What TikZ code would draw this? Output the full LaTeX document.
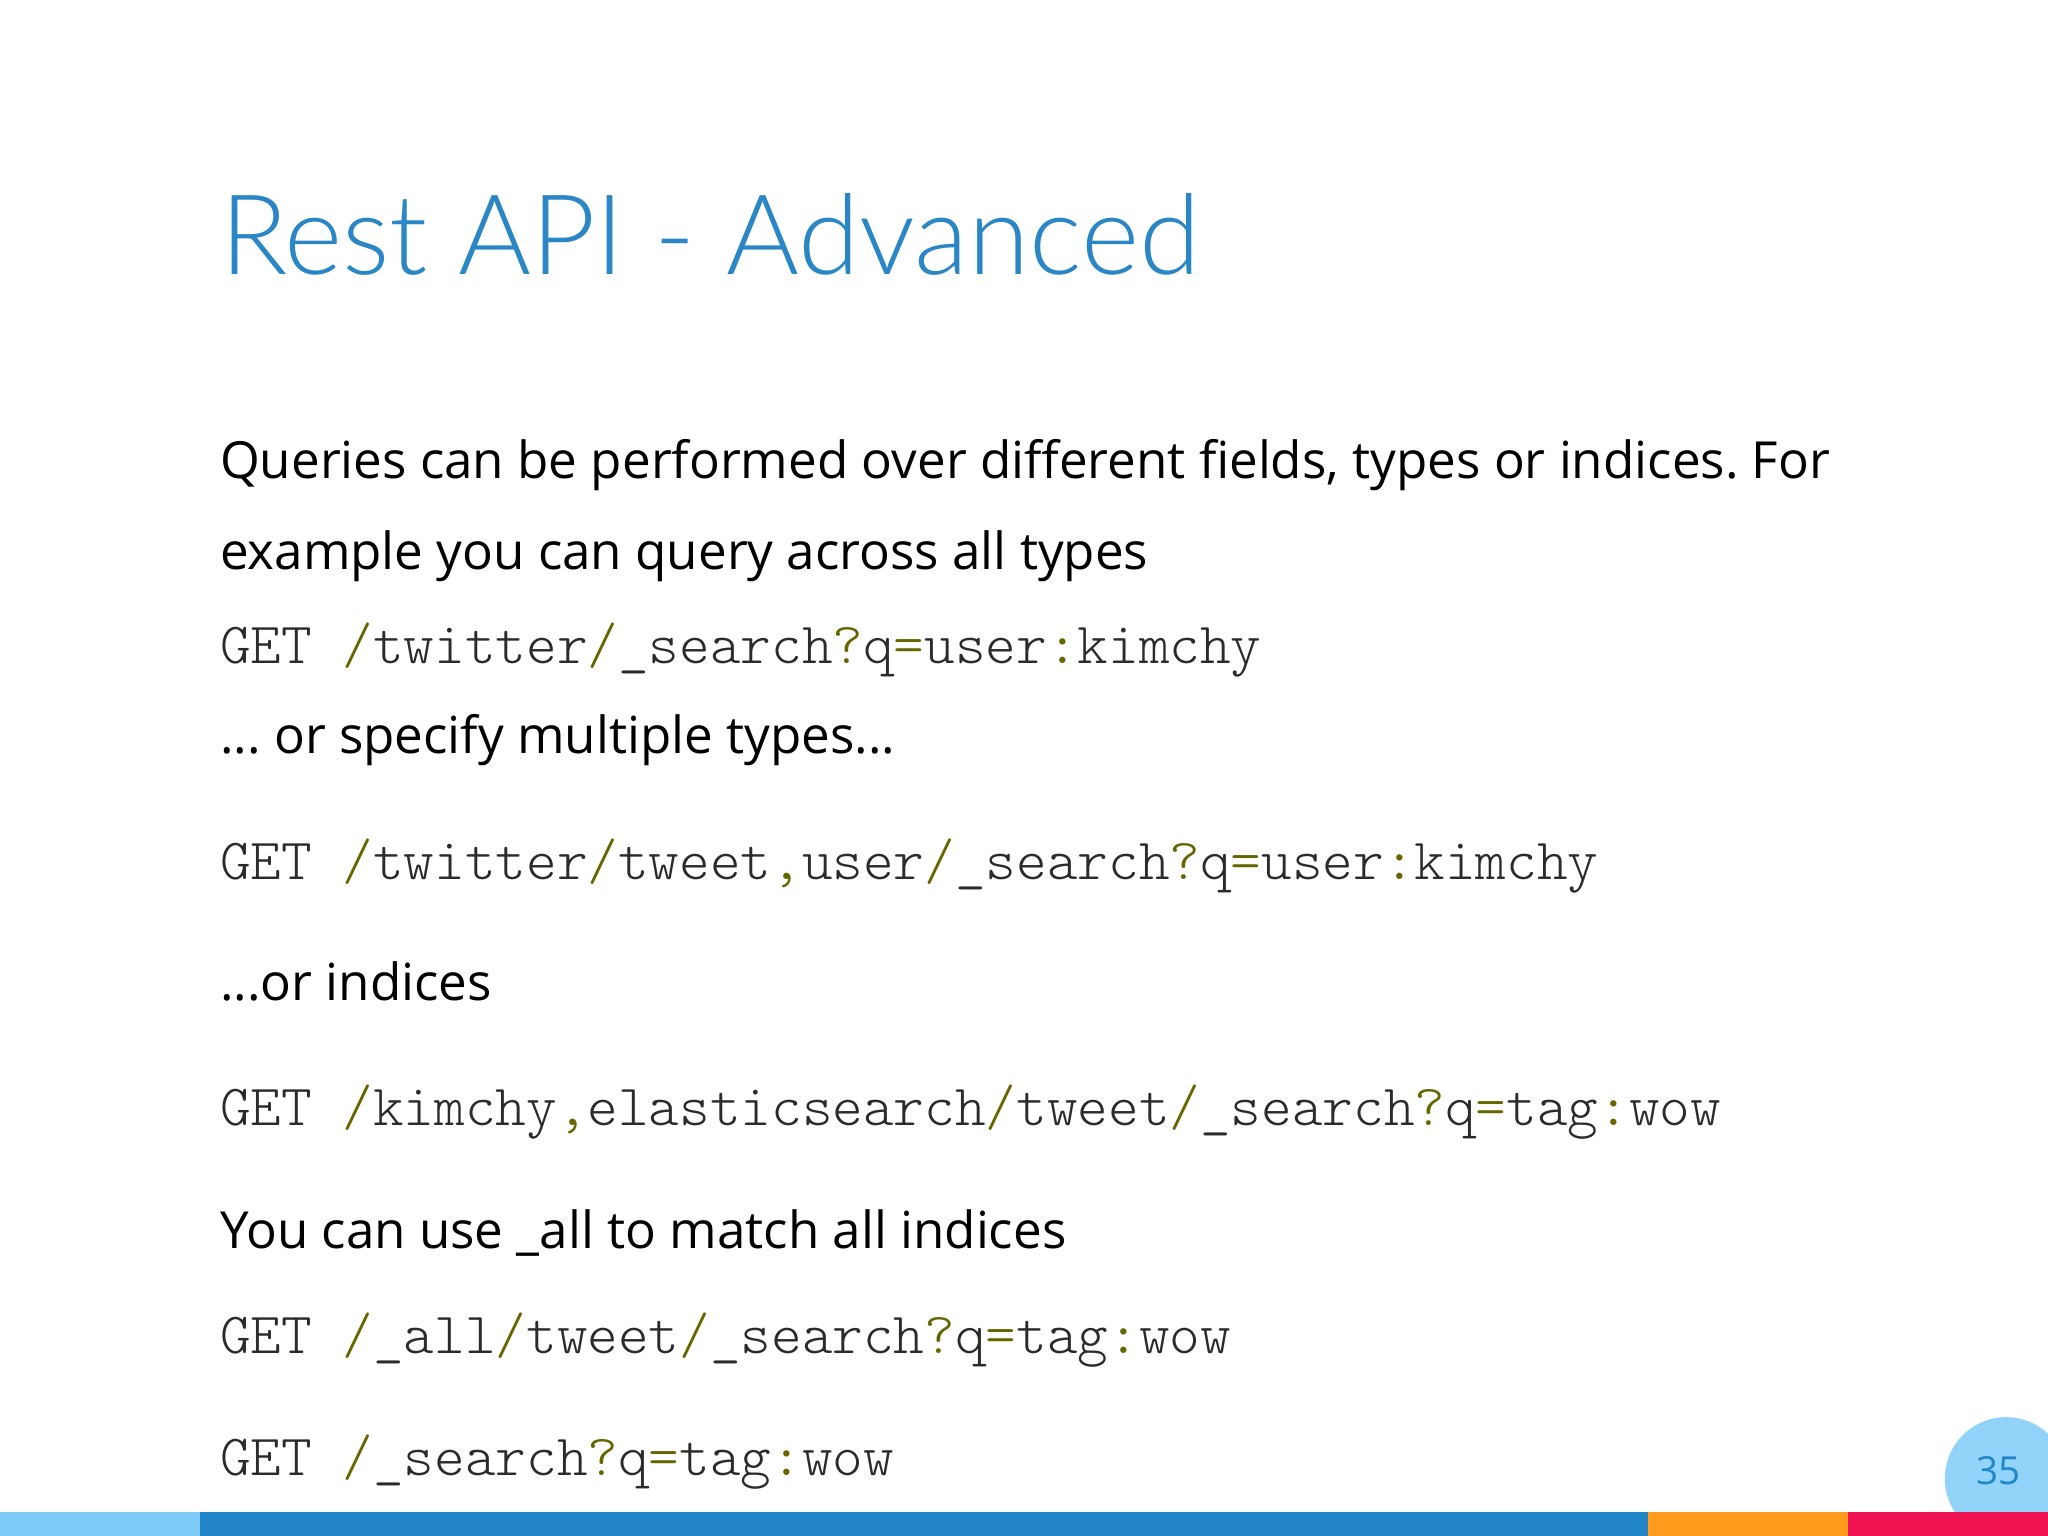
\documentclass[tikz,border=0pt]{standalone}
\usepackage{fontspec}
\setmainfont{Open Sans}
\newfontfamily\titlefont{Lato Light}
\newfontfamily\codefont{Latin Modern Mono Light}
\definecolor{titleblue}{HTML}{2A86C4}
\definecolor{codegray}{HTML}{2B2B2B}
\definecolor{olive}{HTML}{666600}
\definecolor{lblue}{HTML}{7FCBF8}
\definecolor{mblue}{HTML}{2386C8}
\definecolor{orng}{HTML}{FF9A1D}
\definecolor{pinkred}{HTML}{EE1250}
\newcommand{\p}[1]{\textcolor{olive}{#1}}
\frenchspacing
\begin{document}
\begin{tikzpicture}[x=0.013061cm,y=-0.013061cm,
  body/.style={anchor=base west,inner sep=0,font=\fontsize{14.55pt}{18pt}\selectfont},
  code/.style={anchor=base west,inner sep=0,text=codegray,font=\codefont\fontsize{16.6pt}{18pt}\selectfont}]
\useasboundingbox (0,0) rectangle (1568,1176);
\fill[white] (0,0) rectangle (1568,1176);
\node[anchor=base west,inner sep=0,text=titleblue,font=\titlefont\fontsize{31.7pt}{40pt}\selectfont] (title) at (168,210) {Rest API - Advanced};
\node[body] (t1) at (168,366) {Queries can be performed over different fields, types or indices. For};
\node[body] (t2) at (168,436) {example you can query across all types};
\node[code] (c1) at (168,508) {GET \p{/}twitter\p{/}\_search\p{?}q\p{=}user\p{:}kimchy};
\node[body] (t3) at (168,577) {... or specify multiple types...};
\node[code] (c2) at (168,673) {GET \p{/}twitter\p{/}tweet\p{,}user\p{/}\_search\p{?}q\p{=}user\p{:}kimchy};
\node[body] (t4) at (168,766) {...or indices};
\node[code] (c3) at (168,862) {GET \p{/}kimchy\p{,}elasticsearch\p{/}tweet\p{/}\_search\p{?}q\p{=}tag\p{:}wow};
\node[body] (t5) at (168,956) {You can use \_all to match all indices};
\node[code] (c4) at (168,1036) {GET \p{/}\_all\p{/}tweet\p{/}\_search\p{?}q\p{=}tag\p{:}wow};
\node[code] (c5) at (168,1130) {GET \p{/}\_search\p{?}q\p{=}tag\p{:}wow};
\begin{scope}
\clip (0,0) rectangle (1568,1158);
\fill[lblue!85] (1536,1132) circle (47);
\end{scope}
\node[text=mblue,font=\fontsize{11pt}{13pt}\selectfont] (num) at (1530,1126) {35};
\fill[lblue] (0,1158) rectangle (153,1176);
\fill[mblue] (153,1158) rectangle (1262,1176);
\fill[orng] (1262,1158) rectangle (1415,1176);
\fill[pinkred] (1415,1158) rectangle (1568,1176);
\end{tikzpicture}
\end{document}
